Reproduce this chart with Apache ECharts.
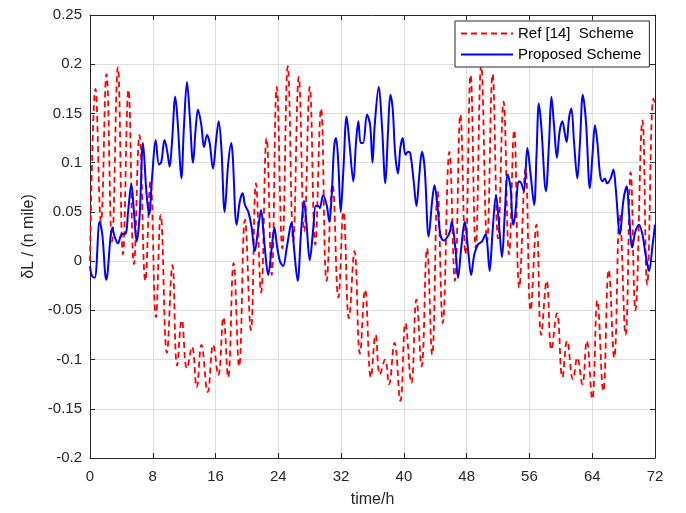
<!DOCTYPE html>
<html>
<head>
<meta charset="utf-8">
<script src="https://cdn.jsdelivr.net/npm/echarts@6/dist/echarts.min.js"></script>
<style>
html,body{margin:0;padding:0;background:#fff;}
#chart{width:686px;height:513px;}
</style>
</head>
<body>
<div id="chart"></div>
<script>
// x ticks and y ticks
var xTicks = [0, 8, 16, 24, 32, 40, 48, 56, 64, 72];
var yTicks = [-0.2, -0.15, -0.1, -0.05, 0, 0.05, 0.1, 0.15, 0.2, 0.25];
var seriesNames = ['Ref [14]  Scheme', 'Proposed Scheme'];

// Ref [14] Scheme (red dashed): time (h) and value (n mile)
var redT = [0,0.7,1.4,2.1,2.8,3.55,4.2,4.9,5.6,6.3,7.05,7.7,8.4,9.0,9.8,10.5,11.1,11.7,12.35,13.0,13.6,14.2,15.0,15.7,16.35,17.0,17.6,18.3,19.0,19.75,20.5,21.15,21.8,22.5,23.15,23.8,24.5,25.2,25.9,26.6,27.3,28.0,28.7,29.44,30.16,30.9,31.65,32.3,33.0,33.7,34.4,35.05,35.8,36.4,36.95,37.6,38.1,38.8,39.55,40.2,40.95,41.6,42.25,42.95,43.6,44.3,44.95,45.8,46.5,47.2,47.84,48.5,49.15,49.85,50.6,51.3,52.0,52.7,53.4,54.05,54.7,55.5,56.15,56.9,57.5,58.2,58.8,59.5,60.2,60.8,61.55,62.1,62.74,63.3,64.0,64.65,65.4,66.1,66.8,67.5,68.25,68.9,69.5,70.4,71.0,71.8,72];
var redV = [0.0,0.175,0.04,0.19,0.02,0.197,0.007,0.174,-0.003,0.128,-0.02,0.081,-0.057,0.047,-0.093,-0.004,-0.106,-0.06,-0.109,-0.087,-0.128,-0.085,-0.133,-0.085,-0.116,-0.057,-0.118,-0.002,-0.107,0.042,-0.07,0.079,-0.032,0.125,-0.014,0.177,0.013,0.198,0.02,0.187,0.03,0.177,0.017,0.155,-0.02,0.078,-0.037,0.05,-0.058,0.01,-0.094,-0.029,-0.118,-0.075,-0.115,-0.1,-0.125,-0.083,-0.142,-0.063,-0.124,-0.039,-0.107,0.013,-0.095,0.071,-0.063,0.111,-0.02,0.149,0.007,0.189,0.013,0.199,0.02,0.19,0.023,0.162,0.007,0.133,-0.027,0.094,-0.05,0.037,-0.075,-0.02,-0.09,-0.053,-0.118,-0.081,-0.12,-0.098,-0.125,-0.081,-0.14,-0.04,-0.132,-0.009,-0.098,0.047,-0.075,0.09,-0.05,0.143,-0.024,0.165,0.16];

// Proposed Scheme (blue solid)
var blueT = [0,0.25,0.6,1.23,1.57,2.08,2.85,3.14,3.57,4.0,4.55,4.84,5.27,5.6,5.95,6.33,6.75,7.18,7.52,7.94,8.37,8.79,9.09,9.5,9.85,10.15,10.45,10.87,11.2,11.64,11.98,12.36,12.7,13.13,13.47,13.76,14.19,14.53,14.91,15.25,15.67,16.1,16.4,16.74,17.16,17.6,18.0,18.18,18.69,19.1,19.45,19.75,20.18,20.6,21.0,21.45,21.8,22.1,22.4,22.7,23.15,23.5,23.8,24.2,24.6,25.06,25.5,25.7,26.0,26.46,26.9,27.27,27.6,28.0,28.46,28.76,29.1,29.3,29.7,30.16,30.5,30.8,31.1,31.35,31.65,31.95,32.28,32.7,33.05,33.56,33.9,34.2,34.5,34.8,35.3,35.7,36.0,36.28,36.8,37.2,37.64,37.98,38.28,38.57,38.9,39.25,39.55,39.85,40.2,40.53,40.8,41.25,41.6,41.97,42.3,42.65,43.16,43.6,43.9,44.3,44.65,45.07,45.5,45.9,46.1,46.56,46.9,47.3,47.75,48.2,48.56,48.98,49.45,49.96,50.4,50.6,50.93,51.3,51.74,52.1,52.5,52.85,53.23,53.6,53.9,54.15,54.67,54.96,55.3,55.73,56.15,56.6,56.9,57.2,57.5,58.1,58.5,58.8,59.13,59.5,59.85,60.2,60.5,60.74,61.04,61.34,61.68,62.1,62.44,62.8,63.2,63.7,64.06,64.35,64.65,65.0,65.3,65.6,65.9,66.35,66.7,66.99,67.54,67.96,68.4,68.7,69.1,69.5,69.96,70.4,70.8,71.24,71.66,72.0];
var blueV = [-0.005,-0.015,-0.017,0.04,0.027,-0.019,0.034,0.025,0.018,0.027,0.028,0.049,0.078,0.05,0.02,0.047,0.12,0.071,0.047,0.088,0.123,0.098,0.101,0.123,0.111,0.096,0.121,0.167,0.138,0.084,0.138,0.182,0.149,0.1,0.135,0.154,0.138,0.116,0.128,0.12,0.094,0.125,0.142,0.115,0.05,0.098,0.12,0.108,0.037,0.061,0.069,0.057,0.05,0.034,0.01,0.034,0.052,0.03,0.003,-0.014,0.013,0.034,0.017,0.0,-0.005,0.013,0.034,0.039,0.013,-0.02,0.03,0.061,0.037,0.001,0.034,0.056,0.056,0.054,0.067,0.057,0.04,0.067,0.115,0.125,0.098,0.05,0.091,0.147,0.121,0.081,0.121,0.142,0.12,0.12,0.149,0.138,0.1,0.138,0.177,0.138,0.079,0.132,0.169,0.155,0.108,0.089,0.115,0.125,0.108,0.111,0.11,0.081,0.056,0.088,0.111,0.094,0.025,0.061,0.077,0.054,0.027,0.021,0.024,0.031,0.04,0.013,-0.017,0.013,0.04,0.01,-0.014,0.007,0.017,0.02,0.027,0.02,-0.01,0.03,0.067,0.04,0.004,0.047,0.088,0.074,0.037,0.045,0.081,0.079,0.071,0.115,0.088,0.057,0.108,0.16,0.138,0.071,0.121,0.167,0.138,0.105,0.132,0.142,0.13,0.121,0.145,0.155,0.121,0.084,0.121,0.169,0.142,0.074,0.111,0.138,0.121,0.088,0.081,0.084,0.079,0.084,0.093,0.074,0.027,0.061,0.076,0.047,0.014,0.03,0.037,0.027,0.007,-0.01,0.014,0.037];

function pairs(t, v) { return t.map(function (x, i) { return [x, v[i]]; }); }

var font = '"Liberation Sans", Arial, sans-serif';
var axisColor = '#262626';
var xMin = xTicks[0], xMax = xTicks[xTicks.length - 1], xInt = xTicks[1] - xTicks[0];
var yMin = yTicks[0], yMax = yTicks[yTicks.length - 1], yInt = 0.05;

var chart = echarts.init(document.getElementById('chart'), null, { renderer: 'canvas' });
chart.setOption({
  animation: false,
  backgroundColor: '#fff',
  grid: { left: 90, right: 31, top: 15, bottom: 55 },
  legend: {
    show: true,
    orient: 'vertical',
    left: 455, top: 21,
    padding: [5, 8, 5, 5],
    itemGap: 6,
    itemWidth: 52, itemHeight: 15,
    backgroundColor: '#fff',
    borderColor: axisColor, borderWidth: 1,
    textStyle: { fontFamily: font, fontSize: 15, color: '#000' },
    data: [
      { name: seriesNames[0], itemStyle: { opacity: 0 } },
      { name: seriesNames[1], itemStyle: { opacity: 0 } }
    ]
  },
  xAxis: [{
    type: 'value', min: xMin, max: xMax, interval: xInt,
    name: 'time/h', nameLocation: 'middle', nameGap: 34,
    nameTextStyle: { fontFamily: font, fontSize: 16, color: axisColor },
    axisLine: { show: true, onZero: false, lineStyle: { color: axisColor, width: 1 } },
    axisTick: { show: true, inside: true, length: 5, lineStyle: { color: axisColor } },
    axisLabel: { fontFamily: font, fontSize: 15, color: axisColor, margin: 11 },
    splitLine: { show: true, lineStyle: { color: '#dedede', width: 1 } }
  }, {
    type: 'value', position: 'top', min: xMin, max: xMax, interval: xInt,
    axisLine: { show: true, onZero: false, lineStyle: { color: axisColor, width: 1 } },
    axisTick: { show: true, inside: true, length: 5, lineStyle: { color: axisColor } },
    axisLabel: { show: false }, splitLine: { show: false }
  }],
  yAxis: [{
    type: 'value', min: yMin, max: yMax, interval: yInt,
    name: 'δL / (n mile)', nameLocation: 'middle', nameGap: 50,
    nameTextStyle: { fontFamily: font, fontSize: 16, color: axisColor },
    axisLine: { show: true, onZero: false, lineStyle: { color: axisColor, width: 1 } },
    axisTick: { show: true, inside: true, length: 5, lineStyle: { color: axisColor } },
    axisLabel: { fontFamily: font, fontSize: 15, color: axisColor, margin: 8,
      formatter: function (v) { return String(Math.round(v * 100) / 100); } },
    splitLine: { show: true, lineStyle: { color: '#dedede', width: 1 } }
  }, {
    type: 'value', position: 'right', min: yMin, max: yMax, interval: yInt,
    axisLine: { show: true, onZero: false, lineStyle: { color: axisColor, width: 1 } },
    axisTick: { show: true, inside: true, length: 5, lineStyle: { color: axisColor } },
    axisLabel: { show: false }, splitLine: { show: false }
  }],
  series: [{
    name: seriesNames[0], type: 'line', xAxisIndex: 0, yAxisIndex: 0,
    data: pairs(redT, redV), symbol: 'none', smooth: 0.45,
    lineStyle: { color: '#ff0000', width: 1.8, type: [6, 4] },
    itemStyle: { color: '#ff0000' }, z: 2
  }, {
    name: seriesNames[1], type: 'line', xAxisIndex: 0, yAxisIndex: 0,
    data: pairs(blueT, blueV), symbol: 'none', smooth: 0.35,
    lineStyle: { color: '#0000ff', width: 2 },
    itemStyle: { color: '#0000ff' }, z: 3
  }]
});
</script>
</body>
</html>
